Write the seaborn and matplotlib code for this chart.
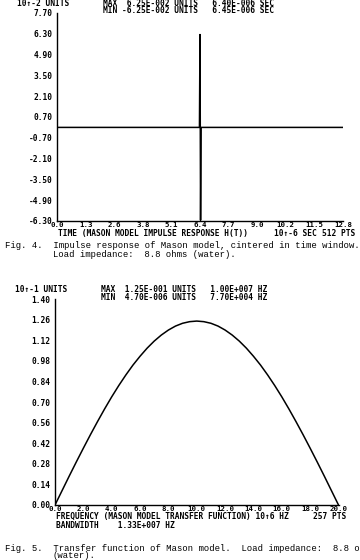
import matplotlib
matplotlib.use("Agg")
import matplotlib.pyplot as plt
import seaborn as sns
import pandas as pd

# ---- data ----
impulse_time = [0.0, 6.375, 6.400, 6.425, 6.450, 12.8]
impulse_value = [0.0, 0.0, 6.25, -6.25, 0.0, 0.0]
impulse_xticks = [0.0, 1.28, 2.56, 3.84, 5.12, 6.40, 7.68, 8.96, 10.24, 11.52, 12.8]
impulse_xlabels = ["0.0", "1.3", "2.6", "3.8", "5.1", "6.4", "7.7", "9.0", "10.2", "11.5", "12.8"]
impulse_yticks = [-6.30, -4.90, -3.50, -2.10, -0.70, 0.70, 2.10, 3.50, 4.90, 6.30, 7.70]
impulse_ylabels = ["-6.30", "-4.90", "-3.50", "-2.10", "-0.70", "0.70", "2.10", "3.50", "4.90", "6.30", "7.70"]

freq = [0.0, 0.5, 1.0, 1.5, 2.0, 2.5, 3.0, 3.5, 4.0, 4.5, 5.0, 5.5, 6.0, 6.5, 7.0, 7.5,
        8.0, 8.5, 9.0, 9.5, 10.0, 10.5, 11.0, 11.5, 12.0, 12.5, 13.0, 13.5, 14.0, 14.5,
        15.0, 15.5, 16.0, 16.5, 17.0, 17.5, 18.0, 18.5, 19.0, 19.5, 20.0]
transfer = [0.000, 0.098, 0.196, 0.292, 0.386, 0.478, 0.567, 0.653, 0.735, 0.812,
            0.884, 0.951, 1.011, 1.066, 1.114, 1.155, 1.189, 1.216, 1.235, 1.246,
            1.250, 1.246, 1.235, 1.216, 1.189, 1.155, 1.114, 1.066, 1.011, 0.951,
            0.884, 0.812, 0.735, 0.653, 0.567, 0.478, 0.386, 0.292, 0.196, 0.098,
            0.000]
freq_xticks = [0, 2, 4, 6, 8, 10, 12, 14, 16, 18, 20]
freq_xlabels = ["0.0", "2.0", "4.0", "6.0", "8.0", "10.0", "12.0", "14.0", "16.0", "18.0", "20.0"]
freq_yticks = [0.00, 0.14, 0.28, 0.42, 0.56, 0.70, 0.84, 0.98, 1.12, 1.26, 1.40]
freq_ylabels = ["0.00", "0.14", "0.28", "0.42", "0.56", "0.70", "0.84", "0.98", "1.12", "1.26", "1.40"]

sns.set_theme(style="white")
plt.rcParams['font.family'] = ['DejaVu Sans Mono', 'DejaVu Sans']

W, H = 360, 560
fig = plt.figure(figsize=(W / 100, H / 100), dpi=100)

def rect(l, t, r, b):
    return [l / W, 1 - b / H, (r - l) / W, (b - t) / H]

DOT = ['DejaVu Sans Mono', 'DejaVu Sans']
TYPE = ['Liberation Mono', 'DejaVu Sans Mono']

def ftext(x, y, s, **kw):
    kw.setdefault("fontsize", 5.7)
    kw.setdefault("fontweight", "bold")
    kw.setdefault("va", "center")
    kw.setdefault("ha", "left")
    kw.setdefault("color", "black")
    kw.setdefault("family", DOT)
    fig.text(x / W, 1 - y / H, s, **kw)

XTICKFONT = dict(fontsize=5.3, fontweight="bold", family=DOT)
YTICKFONT = dict(fontsize=5.7, fontweight="bold", family=DOT)

def style_axes(ax, xt, xl, yt, yl):
    for s in ["top", "right"]:
        ax.spines[s].set_visible(False)
    for s in ["left", "bottom"]:
        ax.spines[s].set_color("black")
        ax.spines[s].set_linewidth(1.0)
    ax.set_xticks(xt)
    ax.set_xticklabels(xl, **XTICKFONT)
    ax.set_yticks(yt)
    ax.set_yticklabels(yl, **YTICKFONT)
    ax.tick_params(axis="x", direction="in", length=2.5, width=0.8, pad=0.6, colors="black")
    ax.tick_params(axis="y", direction="out", length=3, width=0.8, pad=0.5, colors="black")
    ax.set_xlabel("")
    ax.set_ylabel("")
    ax.grid(False)
    ax.set_facecolor("white")

# ---- top panel: impulse response ----
ax1 = fig.add_axes(rect(57, 13, 343, 221))
df1 = pd.DataFrame({"t": impulse_time, "h": impulse_value})
sns.lineplot(data=df1, x="t", y="h", sort=False, color="black", linewidth=1.1, ax=ax1)
ax1.set_xlim(0, 12.8)
ax1.set_ylim(-6.30, 7.70)
style_axes(ax1, impulse_xticks, impulse_xlabels, impulse_yticks, impulse_ylabels)

ftext(17, 3, "10\u2191-2 UNITS")
ftext(103, 3, "MAX  6.25E-002 UNITS   6.40E-006 SEC")
ftext(103, 10.5, "MIN -6.25E-002 UNITS   6.45E-006 SEC")
ftext(58, 233, "TIME (MASON MODEL IMPULSE RESPONSE H(T))")
ftext(274, 233, "10\u2191-6 SEC")
ftext(322, 233, "512 PTS")

CAP = dict(fontsize=6.4, fontweight="normal", family=TYPE)
ftext(5, 246, "Fig. 4.  Impulse response of Mason model, cintered in time window.", **CAP)
ftext(53, 255, "Load impedance:  8.8 ohms (water).", **CAP)

# ---- bottom panel: transfer function ----
ax2 = fig.add_axes(rect(55, 299, 338.5, 505))
df2 = pd.DataFrame({"f": freq, "g": transfer})
sns.lineplot(data=df2, x="f", y="g", color="black", linewidth=1.1, ax=ax2)
ax2.set_xlim(0, 20)
ax2.set_ylim(0, 1.40)
style_axes(ax2, freq_xticks, freq_xlabels, freq_yticks, freq_ylabels)

ftext(15, 290, "10\u2191-1 UNITS")
ftext(101, 290, "MAX  1.25E-001 UNITS   1.00E+007 HZ")
ftext(101, 297.5, "MIN  4.70E-006 UNITS   7.70E+004 HZ")
ftext(56, 516.5, "FREQUENCY (MASON MODEL TRANSFER FUNCTION) 10\u21916 HZ")
ftext(313, 516.5, "257 PTS")
ftext(56, 525, "BANDWIDTH    1.33E+007 HZ")

ftext(5, 548.5, "Fig. 5.  Transfer function of Mason model.  Load impedance:  8.8 ohms", **CAP)
ftext(53, 556, "(water).", **CAP)

fig.savefig("out.png", dpi=100, facecolor="white")
